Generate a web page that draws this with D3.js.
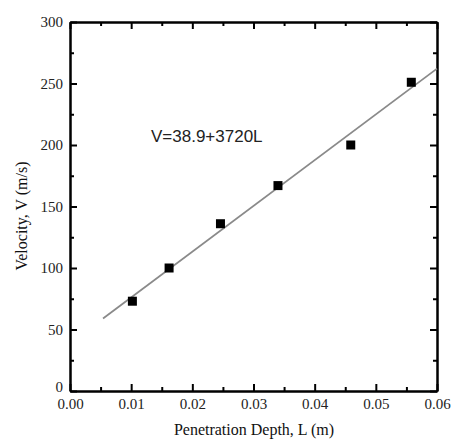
<!DOCTYPE html>
<html>
<head>
<meta charset="utf-8">
<style>
  body { margin: 0; background: #fff; }
  .tick text { font-family: "Liberation Serif", "Times New Roman", serif; font-size: 15px; fill: #222; }
  .axis path, .axis line { stroke: #000; stroke-width: 2; }
  .title { font-family: "Liberation Serif", "Times New Roman", serif; font-size: 16px; fill: #111; }
</style>
</head>
<body>
<svg width="453" height="439"></svg>
<script src="https://d3js.org/d3.v7.min.js"></script>
<script>
// measured points
var depth = [0.0102, 0.0162, 0.0246, 0.0340, 0.0459, 0.0558];
var velocity = [73, 100, 136, 167, 200, 251];

// linear fit V = 38.9 + 3720 L
var fitIntercept = 38.9;
var fitSlope = 3720;
var fitRange = [0.0054, 0.06];

var xTicks = [0, 0.01, 0.02, 0.03, 0.04, 0.05, 0.06];
var xMinor = [0.005, 0.015, 0.025, 0.035, 0.045, 0.055];
var yTicks = [0, 50, 100, 150, 200, 250, 300];
var yMinor = [25, 75, 125, 175, 225, 275];

var margin = { top: 22, right: 16, bottom: 48, left: 70 };
var width = 437 - margin.left;
var height = 391 - margin.top;

var svg = d3.select("svg");
var g = svg.append("g")
  .attr("transform", "translate(" + margin.left + "," + margin.top + ")");

var x = d3.scaleLinear().domain([0, 0.06]).range([0, width]);
var y = d3.scaleLinear().domain([0, 300]).range([height, 0]);

// bottom axis
g.append("g").attr("class", "axis")
  .attr("transform", "translate(0," + height + ")")
  .call(d3.axisBottom(x).tickValues(xTicks).tickFormat(d3.format(".2f"))
    .tickSizeInner(-7).tickSizeOuter(0).tickPadding(7));
g.append("g").attr("class", "axis")
  .attr("transform", "translate(0," + height + ")")
  .call(d3.axisBottom(x).tickValues(xMinor).tickFormat("")
    .tickSizeInner(-4).tickSizeOuter(0));

// top axis
g.append("g").attr("class", "axis")
  .call(d3.axisTop(x).tickValues(xTicks).tickFormat("").tickSizeInner(-7).tickSizeOuter(0));
g.append("g").attr("class", "axis")
  .call(d3.axisTop(x).tickValues(xMinor).tickFormat("").tickSizeInner(-4).tickSizeOuter(0));

// left axis
var yAxis = g.append("g").attr("class", "axis")
  .call(d3.axisLeft(y).tickValues(yTicks).tickSizeInner(-7).tickSizeOuter(0).tickPadding(7));
// the zero label sits a bit higher so it clears 0.00
yAxis.selectAll(".tick text").filter(function(d) { return d === 0; }).attr("dy", "0.05em");
g.append("g").attr("class", "axis")
  .call(d3.axisLeft(y).tickValues(yMinor).tickFormat("").tickSizeInner(-4).tickSizeOuter(0));

// right axis
g.append("g").attr("class", "axis")
  .attr("transform", "translate(" + width + ",0)")
  .call(d3.axisRight(y).tickValues(yTicks).tickFormat("").tickSizeInner(-7).tickSizeOuter(0));
g.append("g").attr("class", "axis")
  .attr("transform", "translate(" + width + ",0)")
  .call(d3.axisRight(y).tickValues(yMinor).tickFormat("").tickSizeInner(-4).tickSizeOuter(0));

// fit line
g.append("line")
  .attr("x1", x(fitRange[0]))
  .attr("y1", y(fitIntercept + fitSlope * fitRange[0]))
  .attr("x2", x(fitRange[1]))
  .attr("y2", y(fitIntercept + fitSlope * fitRange[1]))
  .attr("stroke", "#8a8a8a")
  .attr("stroke-width", 1.8);

// points
var s = 9;
g.selectAll("rect.pt").data(depth).enter().append("rect")
  .attr("class", "pt")
  .attr("x", function(d) { return x(d) - s / 2; })
  .attr("y", function(d, i) { return y(velocity[i]) - s / 2; })
  .attr("width", s)
  .attr("height", s)
  .attr("fill", "#000");

// equation
g.append("text")
  .attr("x", 81)
  .attr("y", 120)
  .attr("font-family", "Liberation Sans, Arial, sans-serif")
  .attr("font-size", 17)
  .attr("fill", "#222")
  .text("V=38.9+3720L");

// axis titles
svg.append("text").attr("class", "title")
  .attr("x", 254)
  .attr("y", 435)
  .attr("text-anchor", "middle")
  .text("Penetration Depth, L (m)");

svg.append("text").attr("class", "title")
  .attr("transform", "translate(27,216) rotate(-90)")
  .attr("text-anchor", "middle")
  .text("Velocity, V (m/s)");
</script>
</body>
</html>
